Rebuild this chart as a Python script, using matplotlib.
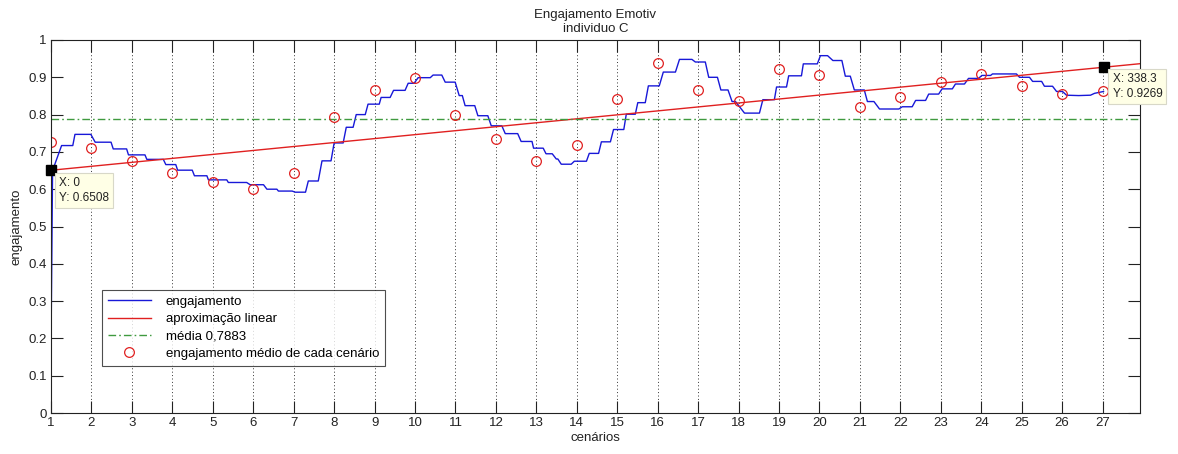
import matplotlib.pyplot as plt

plt.rcParams['font.family'] = ['Liberation Sans', 'DejaVu Sans']

# samples per cenario (tick spacing) and axis end, read from the data tips
passo = 13
x_max = 350

# engajamento (stepped moving average), x in samples
eng_x = [0, 0.5, 3.4, 7.0, 7.7, 12.8, 14.2, 19.3, 20.0, 24.3, 24.9, 30.2, 30.8, 36.1,
         36.9, 40.1, 40.7, 45.4, 46.1, 50.1, 50.6, 56.5, 57.0, 62.9, 64.0, 68.3, 69.4,
         72.6, 73.1, 77.5, 78.5, 81.8, 82.7, 85.9, 87.1, 90.0, 91.0, 93.9, 94.9, 97.1,
         98.1, 101.0, 101.9, 105.5, 106.1, 109.0, 110.1, 113.8, 114.8, 116.7, 118.0,
         121.9, 122.8, 125.6, 126.7, 129.9, 131.2, 132.2, 133.1, 136.2, 137.2, 140.4,
         141.5, 144.9, 146.0, 150.0, 151.1, 154.6, 155.1, 158.2, 159.1, 161.1, 162.4,
         162.9, 164.0, 167.2, 168.2, 172.1, 173.0, 176.0, 176.9, 179.8, 180.8, 184.1,
         184.9, 187.8, 188.6, 191.0, 192.0, 195.5, 196.8, 200.7, 202.0, 206.0, 207.1,
         210.3, 211.4, 214.2, 215.3, 217.6, 218.9, 220.0, 222.9, 227.7, 228.8, 232.5,
         233.2, 236.4, 237.1, 241.2, 241.8, 246.3, 247.3, 249.6, 251.3, 254.2, 255.3,
         256.9, 258.2, 261.4, 262.4, 264.5, 266.3, 272.5, 273.6, 276.8, 277.9, 281.1,
         282.1, 285.3, 286.4, 289.7, 290.7, 293.6, 294.9, 298.1, 299.2, 302.0, 302.6,
         310.3, 311.3, 314.5, 315.5, 318.4, 319.3, 321.9, 323.2, 325.1, 326.4, 330.3,
         334.1, 335.4, 338.3]
eng_y = [0.175, 0.650, 0.717, 0.717, 0.747, 0.747, 0.726, 0.726, 0.708, 0.708, 0.692,
         0.692, 0.680, 0.680, 0.666, 0.666, 0.651, 0.651, 0.636, 0.636, 0.625, 0.625,
         0.618, 0.618, 0.612, 0.612, 0.600, 0.600, 0.595, 0.595, 0.592, 0.592, 0.622,
         0.622, 0.676, 0.676, 0.724, 0.724, 0.766, 0.766, 0.800, 0.800, 0.828, 0.828,
         0.846, 0.846, 0.865, 0.865, 0.884, 0.884, 0.899, 0.899, 0.906, 0.906, 0.887,
         0.887, 0.851, 0.851, 0.824, 0.824, 0.797, 0.797, 0.770, 0.770, 0.749, 0.749,
         0.728, 0.728, 0.710, 0.710, 0.695, 0.695, 0.681, 0.681, 0.667, 0.667, 0.675,
         0.675, 0.696, 0.696, 0.727, 0.727, 0.760, 0.760, 0.801, 0.801, 0.832, 0.832,
         0.877, 0.877, 0.914, 0.914, 0.948, 0.948, 0.941, 0.941, 0.900, 0.900, 0.866,
         0.866, 0.835, 0.835, 0.804, 0.804, 0.840, 0.840, 0.874, 0.874, 0.904, 0.904,
         0.936, 0.936, 0.958, 0.958, 0.945, 0.945, 0.903, 0.903, 0.866, 0.866, 0.835,
         0.835, 0.815, 0.815, 0.821, 0.821, 0.838, 0.838, 0.855, 0.855, 0.869, 0.869,
         0.882, 0.882, 0.897, 0.897, 0.905, 0.905, 0.909, 0.909, 0.900, 0.900, 0.889,
         0.889, 0.876, 0.876, 0.862, 0.862, 0.852, 0.851, 0.852, 0.857, 0.862]

# engajamento medio de cada cenario (1..27)
medio = [0.727, 0.710, 0.676, 0.643, 0.620, 0.600, 0.644, 0.793, 0.866, 0.897,
         0.800, 0.735, 0.676, 0.719, 0.841, 0.937, 0.866, 0.836, 0.922, 0.906,
         0.820, 0.847, 0.887, 0.908, 0.878, 0.856, 0.864]

# aproximacao linear (from data tips) and overall mean
fit_x = [0, 338.3]
fit_y = [0.6508, 0.9269]
media = 0.7883

cenarios = list(range(1, len(medio) + 1))
tick_x = [(c - 1) * passo for c in cenarios]
slope = (fit_y[1] - fit_y[0]) / (fit_x[1] - fit_x[0])

fig = plt.figure(figsize=(11.78, 4.54), dpi=100)
ax = fig.add_axes([0.0433, 0.0903, 0.9244, 0.8216])

ax.plot(eng_x, eng_y, color='#1818d8', lw=1.0, label='engajamento')
ax.plot([0, x_max], [fit_y[0], fit_y[0] + slope * x_max], color='#e02020', lw=1.0,
        label='aproximação linear')
ax.plot([0, x_max], [media, media], color='#3f9a3f', lw=1.0,
        linestyle=(0, (5.5, 2.2, 1.2, 2.2)), label='média 0,7883')
ax.plot(tick_x, medio, 'o', mfc='none', mec='#e02020', ms=7, mew=0.9,
        label='engajamento médio de cada cenário')

# data tips
for tx, ty, off in [(fit_x[0], fit_y[0], (8, -7)), (fit_x[1], fit_y[1], (9, -6))]:
    ax.plot([tx], [ty], 's', color='black', ms=7, clip_on=False, zorder=5)
    ax.annotate('X: %s\nY: %.4f' % (('%g' % tx), ty), xy=(tx, ty), xytext=off,
                textcoords='offset pixels', ha='left', va='top', fontsize=8.5,
                color='#222222', linespacing=1.25, annotation_clip=False, zorder=6,
                bbox=dict(boxstyle='square,pad=0.35', fc='#ffffe6', ec='#d8d8c8', lw=0.8))

ax.set_xlim(0, x_max)
ax.set_ylim(0, 1)
ax.set_xticks(tick_x)
ax.set_xticklabels([str(c) for c in cenarios])
yt = [i / 10 for i in range(11)]
ax.set_yticks(yt)
ax.set_yticklabels(['0'] + ['%.1f' % v for v in yt[1:-1]] + ['1'])
ax.xaxis.grid(True, color='#333333', linestyle=(0, (1, 2.5)), lw=0.7)
ax.tick_params(direction='in', top=True, right=True, length=8.5, width=0.8,
               labelsize=9.5, colors='#222222', pad=3)
for s in ax.spines.values():
    s.set_color('#222222')
    s.set_linewidth(0.8)

ax.set_xlabel('cenários', fontsize=9.5, color='#222222', labelpad=2)
ax.set_ylabel('engajamento', fontsize=9.5, color='#222222', labelpad=4)
ax.set_title('Engajamento Emotiv\nindividuo C', fontsize=9.5, color='#222222',
             linespacing=1.15, pad=6)

leg = ax.legend(loc='lower left', bbox_to_anchor=(0.0466, 0.127), fontsize=9.5,
                frameon=True, fancybox=False, handlelength=3.3, handletextpad=1.1,
                labelspacing=0.38, borderpad=0.45, borderaxespad=0)
leg.get_frame().set_edgecolor('#222222')
leg.get_frame().set_linewidth(0.8)

plt.savefig('out.png', dpi=100)
